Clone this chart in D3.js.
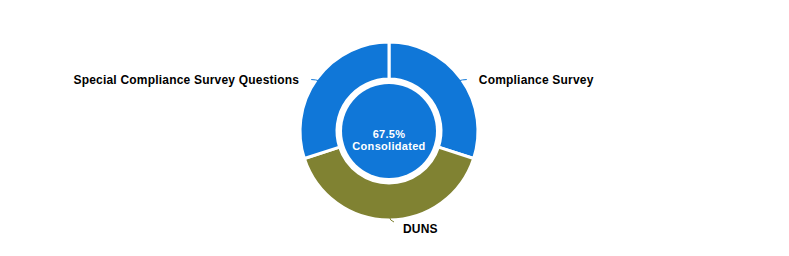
<!DOCTYPE html>
<html>
<head>
<meta charset="utf-8">
<script src="https://cdn.jsdelivr.net/npm/d3@7"></script>
<style>
  html, body { margin: 0; padding: 0; background: #fff; }
  svg { display: block; font-family: "Liberation Sans", Arial, sans-serif; }
</style>
</head>
<body>
<svg id="chart" width="789" height="256"></svg>
<script>
// Slice data
const categories = ["Compliance Survey", "DUNS", "Special Compliance Survey Questions"];
const values = [30, 40, 30];
const colors = ["#1077d8", "#808232", "#1077d8"];
const centerLines = ["67.5%", "Consolidated"];

const svg = d3.select("#chart");
const cx = 389, cy = 131;
const outerR = 89, innerR = 52, coreR = 47;

const g = svg.append("g").attr("transform", `translate(${cx},${cy})`);

const pie = d3.pie().sort(null).value(d => d.value);
const arcs = pie(categories.map((c, i) => ({ name: c, value: values[i], color: colors[i] })));
const arc = d3.arc().innerRadius(innerR).outerRadius(outerR);

// Donut ring
g.selectAll("path.slice")
  .data(arcs)
  .join("path")
  .attr("class", "slice")
  .attr("d", arc)
  .attr("fill", d => d.data.color)
  .attr("stroke", "#fff")
  .attr("stroke-width", 3);

// Center disc
g.append("circle").attr("r", coreR).attr("fill", "#1077d8");

g.selectAll("text.center")
  .data(centerLines)
  .join("text")
  .attr("class", "center")
  .attr("text-anchor", "middle")
  .attr("y", (d, i) => 7 + i * 12)
  .attr("fill", "#fff")
  .attr("font-size", 11)
  .attr("font-weight", "bold")
  .attr("letter-spacing", 0.3)
  .text(d => d);

// Labels with short connectors
arcs.forEach(d => {
  const a = (d.startAngle + d.endAngle) / 2;
  const x0 = Math.sin(a) * (outerR - 4), y0 = -Math.cos(a) * (outerR - 4);
  const bottom = Math.abs(Math.sin(a)) < 0.1;
  const side = bottom ? 1 : Math.sign(Math.sin(a));
  const x1 = x0 + side * (bottom ? 1 : 5), y1 = y0 + (bottom ? 5 : -1.5);
  const x2 = x1 + side * 4, y2 = y1 + (bottom ? 1 : 0);
  g.append("path")
    .attr("d", `M${x0},${y0}Q${x1},${y1} ${x2},${y2}`)
    .attr("fill", "none")
    .attr("stroke", d.data.color)
    .attr("stroke-width", 1);
  g.append("text")
    .attr("x", bottom ? x2 + 9 : x2 + side * 12)
    .attr("y", bottom ? y2 + 11 : y2 + 4)
    .attr("text-anchor", side > 0 ? "start" : "end")
    .attr("font-size", 12)
    .attr("font-weight", "bold")
    .attr("letter-spacing", 0.2)
    .attr("fill", "#000")
    .text(d.data.name);
});
</script>
</body>
</html>
